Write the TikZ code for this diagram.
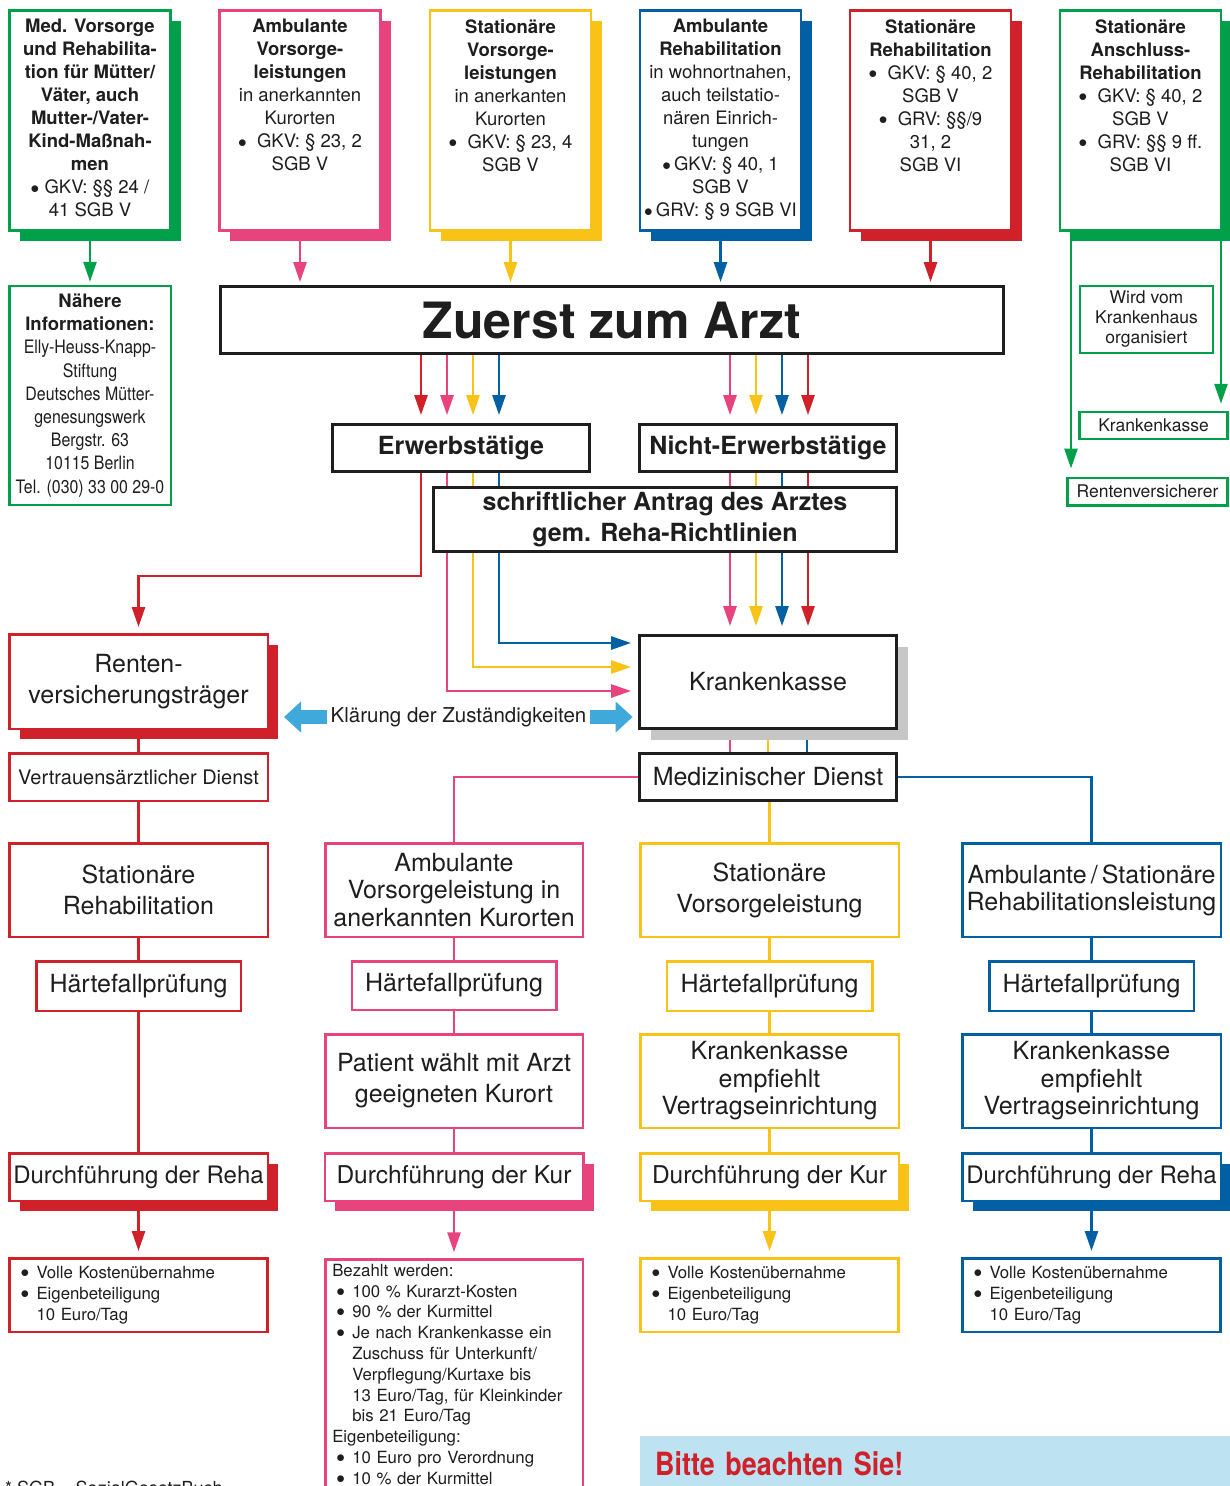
\documentclass[tikz,border=0pt]{standalone}
\usepackage{fontspec}
\setmainfont{TeX Gyre Heros}
\newfontfamily\narrowfont{TeX Gyre Heros}[FakeStretch=0.86]
\newfontfamily\bittefont{TeX Gyre Heros}[FakeStretch=0.84]
\usetikzlibrary{arrows.meta, shadows, backgrounds}
\definecolor{kgreen}{HTML}{00A04B}
\definecolor{kpink}{HTML}{E8437D}
\definecolor{kyellow}{HTML}{F9C216}
\definecolor{kblue}{HTML}{0060A3}
\definecolor{kred}{HTML}{D0202A}
\definecolor{klight}{HTML}{3FA9DC}
\definecolor{kpale}{HTML}{BDE2F1}
\definecolor{kgray}{HTML}{C6C6C6}
\definecolor{kink}{HTML}{1E1E1E}
\newcommand\fsz[2]{\fontsize{#1}{#2}\selectfont}
\newcommand\topinfo[1]{\begin{minipage}[t][214pt][t]{158pt}\centering\fsz{18.5}{23}\vspace*{6pt}#1\end{minipage}}
\newcommand\dotb{\raisebox{0.1ex}{$\bullet$}}
\newcommand\lbul{\makebox[16pt][l]{\dotb}}
\newcommand\lind{\hspace*{16pt}}
\newcommand\pbul{\hspace*{4pt}\makebox[16pt][l]{\dotb}}
\newcommand\pind{\hspace*{20pt}}
\tikzset{
  % farbiger Kasten
  box/.style={draw=#1, line width=2.5pt, fill=white, align=center, inner sep=2pt, text=kink},
  % farbiger Kasten mit vollem Schatten
  shbox/.style={box=#1, general shadow={fill=#1, shadow xshift=10.5pt, shadow yshift=-10.5pt}},
  % schwarzer Kasten
  blackbox/.style={draw=kink, line width=2.8pt, fill=white, align=center, inner sep=2pt, text=kink},
  % Kasten der oberen Reihe
  topbox/.style={shbox=#1, anchor=north, inner xsep=1.5pt, inner ysep=3pt},
  % Kasten mit Aufzaehlung
  listbox/.style={box=#1, align=left, text width=236pt, inner xsep=11pt, font=\fsz{16.8}{21}},
  % Verbindungen
  conn/.style={line width=2.6pt},
  arr/.style={conn, -{Triangle[length=20pt, width=13pt]}},
  bigarr/.style={line width=14pt, klight, -{Triangle[length=17pt, width=30pt]}},
}
\begin{document}
\begin{tikzpicture}[x=1pt, y=-1pt]
  \useasboundingbox (0,0) rectangle (1229,1486);
  % obere Reihe: Leistungsarten
  \node[topbox=kgreen] (tb1) at (90,9.25) {\topinfo{\textbf{Med. Vorsorge\\und Rehabilita-\\tion für Mütter/\\Väter, auch\\Mutter-/Vater-\\Kind-Maßnah-\\men}\\\dotb\ GKV: §§ 24 /\\41 SGB V}};
  \node[topbox=kpink] (tb2) at (300,9.25) {\topinfo{\textbf{Ambulante\\Vorsorge-\\leistungen}\\in anerkannten\\Kurorten\\\dotb\ \ GKV: § 23, 2\\SGB V}};
  \node[topbox=kyellow] (tb3) at (510.5,9.25) {\topinfo{\textbf{Stationäre\\Vorsorge-\\leistungen}\\in anerkanten\\Kurorten\\\dotb\ \ GKV: § 23, 4\\SGB V}};
  \node[topbox=kblue] (tb4) at (720.5,9.25) {\topinfo{\textbf{Ambulante\\Rehabilitation}\\in wohnortnahen,\\auch teilstatio-\\nären Einrich-\\tungen\\\dotb\,GKV: § 40, 1\\SGB V\\\dotb\,GRV: § 9 SGB VI}};
  \node[topbox=kred] (tb5) at (930.5,9.25) {\topinfo{\textbf{Stationäre\\Rehabilitation}\\\dotb\ \ GKV: § 40, 2\\SGB V\\\dotb\ \ GRV: §§/9\\31, 2\\SGB VI}};
  \node[topbox=kgreen] (tb6) at (1140.5,9.25) {\topinfo{\textbf{Stationäre\\Anschluss-\\Rehabilitation}\\\dotb\ \ GKV: § 40, 2\\SGB V\\\dotb\ \ GRV: §§ 9 ff.\\SGB VI}};
  % Kontakt und Anschlussreha
  \node[box=kgreen, minimum width=161.5pt, minimum height=219pt, font=\fsz{18.5}{23.2}] (info) at (90,395.5) {\textbf{Nähere}\\\textbf{Informationen:}\\{\narrowfont Elly-Heuss-Knapp-}\\{\narrowfont Stiftung}\\{\narrowfont Deutsches Mütter-}\\{\narrowfont genesungswerk}\\{\narrowfont Bergstr. 63}\\{\narrowfont 10115 Berlin}\\{\narrowfont Tel. (030) 33 00 29-0}};
  \node[box=kgreen, minimum width=133pt, minimum height=67pt, font=\fsz{17.5}{20}] (orga) at (1146.5,319.5) {Wird vom\\Krankenhaus\\organisiert};
  \node[box=kgreen, minimum width=148pt, minimum height=27pt, inner sep=1pt, font=\fsz{17.5}{20}] (kk2) at (1153.5,425.5) {Krankenkasse};
  \node[box=kgreen, minimum width=160pt, minimum height=27.5pt, inner sep=1pt, font=\fsz{17.5}{20}] (rv2) at (1147.5,491.5) {Rentenversicherer};
  % Arzt und Antrag
  \node[blackbox, minimum width=783pt, minimum height=67pt, font=\bfseries\fsz{50}{55}] (zuerst) at (612,320) {Zuerst zum Arzt};
  \node[blackbox, minimum width=257pt, minimum height=47pt, font=\bfseries\fsz{25}{31}] (erw) at (461,448) {Erwerbstätige};
  \node[blackbox, minimum width=257pt, minimum height=47pt, font=\bfseries\fsz{25}{31}] (nerw) at (768,448) {Nicht-Erwerbstätige};
  \node[blackbox, minimum width=463pt, minimum height=64pt, font=\bfseries\fsz{25}{31}] (antrag) at (665,519.5) {schriftlicher Antrag des Arztes\\gem. Reha-Richtlinien};
  % Kostentraeger
  \node[shbox=kred, minimum width=258.5pt, minimum height=94.5pt, font=\fsz{25}{31}] (rvt) at (138.5,681.5) {Renten-\\versicherungsträger};
  \node[blackbox, minimum width=257pt, minimum height=93pt, font=\fsz{25}{31}, general shadow={fill=kgray, shadow xshift=11pt, shadow yshift=-11pt}] (kk) at (768,682) {Krankenkasse};
  \node[font=\fsz{20.5}{24}, text=kink, inner xsep=4pt] (klaer) at (458.5,717) {Klärung der Zuständigkeiten};
  \node[box=kred, minimum width=258.5pt, minimum height=47.5pt, font=\fsz{20}{24}] (vad) at (138.5,777) {Vertrauensärztlicher Dienst};
  \node[blackbox, minimum width=257pt, minimum height=47pt, font=\fsz{25}{31}] (md) at (768,777) {Medizinischer Dienst};
  % Spalten
  \node[box=kred, minimum width=258.5pt, minimum height=93.5pt, font=\fsz{25}{31}] (sr) at (138.5,890) {Stationäre\\Rehabilitation};
  \node[box=kpink, minimum width=257.5pt, minimum height=93.5pt, font=\fsz{25}{27.5}] (av) at (454,890) {Ambulante\\Vorsorgeleistung in\\anerkannten Kurorten};
  \node[box=kyellow, minimum width=258.5pt, minimum height=93.5pt, font=\fsz{25}{31}] (sv) at (769.5,890) {Stationäre\\Vorsorgeleistung};
  \node[box=kblue, minimum width=258.5pt, minimum height=93.5pt, font=\fsz{25}{27}] (ar) at (1091.5,890) {Ambulante\,/\,Stationäre\\Rehabilitationsleistung};
  \node[box=kred, minimum width=204.5pt, minimum height=49.5pt, font=\fsz{25}{31}] (hf1) at (138.5,986) {Härtefallprüfung};
  \node[box=kpink, minimum width=204.5pt, minimum height=48.5pt, font=\fsz{25}{31}] (hf2) at (454,985.5) {Härtefallprüfung};
  \node[box=kyellow, minimum width=205.5pt, minimum height=49.5pt, font=\fsz{25}{31}] (hf3) at (769.5,986) {Härtefallprüfung};
  \node[box=kblue, minimum width=204.5pt, minimum height=49.5pt, font=\fsz{25}{31}] (hf4) at (1091.5,986) {Härtefallprüfung};
  \node[box=kpink, minimum width=257.5pt, minimum height=93.5pt, font=\fsz{25}{31}] (kurort) at (454,1081) {Patient wählt mit Arzt\\geeigneten Kurort};
  \node[box=kyellow, minimum width=258.5pt, minimum height=93.5pt, font=\fsz{25}{27.5}] (ve3) at (769.5,1081) {Krankenkasse\\empfiehlt\\Vertragseinrichtung};
  \node[box=kblue, minimum width=258.5pt, minimum height=93.5pt, font=\fsz{25}{27.5}] (ve4) at (1091.5,1081) {Krankenkasse\\empfiehlt\\Vertragseinrichtung};
  \node[shbox=kred, minimum width=258.5pt, minimum height=47.5pt, font=\fsz{24}{30}] (dr1) at (138.5,1177) {Durchführung der Reha};
  \node[shbox=kpink, minimum width=258.5pt, minimum height=47.5pt, font=\fsz{24.5}{30}] (dk2) at (454,1177) {Durchführung der Kur};
  \node[shbox=kyellow, minimum width=258.5pt, minimum height=47.5pt, font=\fsz{24.5}{30}] (dk3) at (769.5,1177) {Durchführung der Kur};
  \node[shbox=kblue, minimum width=258.5pt, minimum height=47.5pt, font=\fsz{24}{30}] (dr4) at (1091.5,1177) {Durchführung der Reha};
  % Kosten
  \node[listbox=kred, minimum height=73.5pt] (res1) at (138.5,1295) {\lbul Volle Kostenübernahme\\\lbul Eigenbeteiligung\\\lind 10 Euro/Tag};
  \node[listbox=kpink, anchor=north, inner xsep=7pt, inner ysep=4.5pt, text width=243.5pt, font=\fsz{16.8}{20.8}] (res2) at (454,1258.25) {Bezahlt werden:\\\pbul 100 \% Kurarzt-Kosten\\\pbul 90 \% der Kurmittel\\\pbul Je nach Krankenkasse ein\\\pind Zuschuss für Unterkunft/\\\pind Verpflegung/Kurtaxe bis\\\pind 13 Euro/Tag, für Kleinkinder\\\pind bis 21 Euro/Tag\\Eigenbeteiligung:\\\pbul 10 Euro pro Verordnung\\\pbul 10 \% der Kurmittel};
  \node[listbox=kyellow, minimum height=73.5pt] (res3) at (769.5,1295) {\lbul Volle Kostenübernahme\\\lbul Eigenbeteiligung\\\lind 10 Euro/Tag};
  \node[listbox=kblue, minimum height=73.5pt] (res4) at (1091.5,1295) {\lbul Volle Kostenübernahme\\\lbul Eigenbeteiligung\\\lind 10 Euro/Tag};
  \node[fill=kpale, anchor=north west, minimum width=600pt, minimum height=56pt, inner xsep=15pt, text width=570pt, align=left, font=\bittefont\bfseries\fsz{32}{36}, text=kred] (bitte) at (640,1436) {Bitte beachten Sie!};
  \node[anchor=base west, inner sep=0pt, font=\fsz{18}{22}, text=kink] (sgb) at (5,1494) {* SGB = SozialGesetzBuch};
  % Verbindungen unter den Kaesten
  \begin{pgfonlayer}{background}
    \draw[arr, kgreen, shorten >=3pt] (tb1.south) -- (info.north);
    \foreach \n/\c in {tb2/kpink, tb3/kyellow, tb4/kblue, tb5/kred}
      \draw[arr, color=\c, shorten >=3pt] (\n.south) -- (\n.south |- zuerst.north);
    \draw[arr, kgreen, shorten >=8pt] (tb6.south -| 1071,0) -- (rv2.north -| 1071,0);
    \draw[arr, kgreen, shorten >=7pt] (tb6.south -| 1221,0) -- (kk2.north -| 1221,0);
    \foreach \x/\c in {421/kred, 447/kpink, 473/kyellow, 499/kblue}
      \draw[arr, color=\c, shorten >=8pt] (zuerst.south -| \x,0) -- (erw.north -| \x,0);
    \foreach \x/\c in {730/kpink, 756/kyellow, 782/kblue, 808/kred} {
      \draw[arr, color=\c, shorten >=8pt] (zuerst.south -| \x,0) -- (nerw.north -| \x,0);
      \draw[arr, color=\c, shorten >=8pt] (nerw.south -| \x,0) -- (kk.north -| \x,0);
    }
    \draw[arr, kred, shorten >=6pt] (erw.south -| 421,0) |- ([yshift=57pt]rvt.north) -- (rvt.north);
    \draw[arr, kblue, shorten >=7pt] (erw.south -| 499,0) |- (kk.west |- 0,643);
    \draw[arr, kyellow, shorten >=7pt] (erw.south -| 473,0) |- (kk.west |- 0,667);
    \draw[arr, kpink, shorten >=7pt] (erw.south -| 447,0) |- (kk.west |- 0,691);
    \foreach \x/\c in {730/kpink, 768/kyellow, 807/kblue}
      \draw[conn, color=\c] (kk.south -| \x,0) -- (md.north -| \x,0);
    \draw[conn, kpink] (md.west) -| (av.north);
    \draw[conn, kyellow] (md.south -| sv.north) -- (sv.north);
    \draw[conn, kblue] (md.east) -| (ar.north);
    \foreach \a/\b/\c in {rvt/vad/kred, vad/sr/kred, sr/hf1/kred, hf1/dr1/kred,
        av/hf2/kpink, hf2/kurort/kpink, kurort/dk2/kpink,
        sv/hf3/kyellow, hf3/ve3/kyellow, ve3/dk3/kyellow,
        ar/hf4/kblue, hf4/ve4/kblue, ve4/dr4/kblue}
      \draw[conn, color=\c] (\a.south) -- (\b.north);
    \foreach \a/\b/\c in {dr1/res1/kred, dk2/res2/kpink, dk3/res3/kyellow, dr4/res4/kblue}
      \draw[arr, color=\c, shorten >=6pt] (\a.south) -- (\b.north);
  \end{pgfonlayer}
  % Klaerung der Zustaendigkeiten
  \draw[bigarr, shorten >=15pt] (klaer.west) -- (rvt.east |- klaer.west);
  \draw[bigarr, shorten >=5.5pt] (klaer.east) -- (kk.west |- klaer.east);
\end{tikzpicture}
\end{document}
